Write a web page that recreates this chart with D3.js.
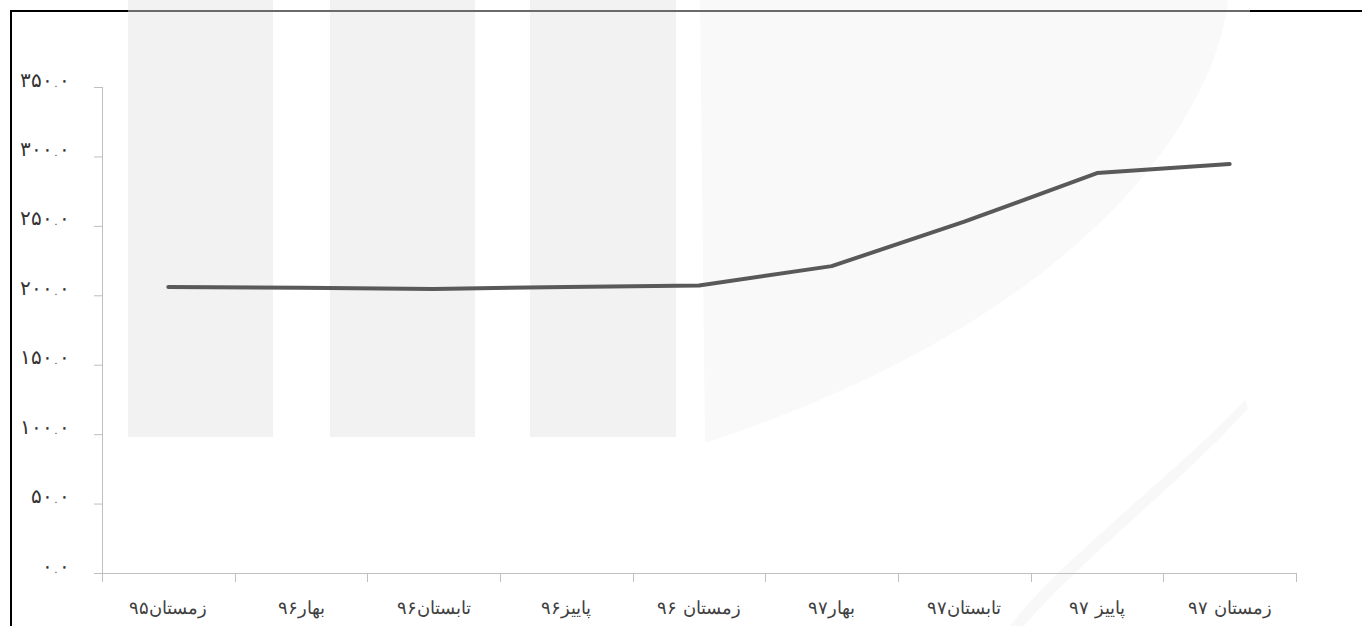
<!DOCTYPE html>
<html>
<head>
<meta charset="utf-8">
<script src="https://cdn.jsdelivr.net/npm/d3@7"></script>
<style>
html,body{margin:0;padding:0;background:#fff;}
svg{display:block;}
</style>
</head>
<body>
<svg id="chart" width="1362" height="626"></svg>
<script>
// ---- data ----
const categories = ["زمستان۹۵","بهار۹۶","تابستان۹۶","پاییز۹۶","زمستان ۹۶","بهار۹۷","تابستان۹۷","پاییز ۹۷","زمستان ۹۷"];
const values = [206, 205.5, 204.5, 206, 207, 221, 253, 288, 294.5];
const yTicks = [0, 50, 100, 150, 200, 250, 300, 350];
const yTickLabels = ["۰.۰","۵۰.۰","۱۰۰.۰","۱۵۰.۰","۲۰۰.۰","۲۵۰.۰","۳۰۰.۰","۳۵۰.۰"];

(function () {
const svg = d3.select("#chart");
const W = 1362, H = 626;
const mLeft = 102, mRight = 1296, mTop = 87, mBottom = 573;

// watermark-like background decoration
const bg = svg.append("g");
bg.append("path")
  .attr("d", "M700,0 L1228,0 C1215,120 1080,320 705,443 Z")
  .attr("fill", "#f9f9f9");
bg.append("path")
  .attr("d", "M1245,400 C1180,470 1060,560 1010,626 L1024,626 C1080,560 1190,475 1248,408 Z")
  .attr("fill", "#f8f8f8");
[[128,273],[330,475],[530,676]].forEach(([a,b]) => {
  bg.append("rect").attr("x", a).attr("y", 0).attr("width", b - a).attr("height", 437).attr("fill", "#f2f2f2");
});

// frame
svg.append("line").attr("x1", 11).attr("x2", 11).attr("y1", 10).attr("y2", H).attr("stroke", "#000").attr("stroke-width", 2);
svg.append("line").attr("x1", 10).attr("x2", 128).attr("y1", 11).attr("y2", 11).attr("stroke", "#000").attr("stroke-width", 2);
svg.append("line").attr("x1", 128).attr("x2", 1250).attr("y1", 11).attr("y2", 11).attr("stroke", "#6a6a6a").attr("stroke-width", 2);
svg.append("line").attr("x1", 1250).attr("x2", W).attr("y1", 11).attr("y2", 11).attr("stroke", "#000").attr("stroke-width", 2);

const x = d3.scaleBand().domain(categories).range([mLeft, mRight]).padding(0);
const y = d3.scaleLinear().domain([0, 350]).range([mBottom, mTop]);

// y axis
const yAxis = d3.axisLeft(y).tickValues(yTicks)
  .tickFormat((d, i) => yTickLabels[i])
  .tickSizeInner(8).tickSizeOuter(0).tickPadding(24);
const gy = svg.append("g").attr("transform", `translate(${mLeft},0)`).call(yAxis);
gy.select(".domain").attr("stroke", "#bfbfbf").attr("d", `M0.5,${mTop}V${mBottom + 9}`);
gy.selectAll(".tick line").attr("stroke", "#bfbfbf");
gy.selectAll(".tick text")
  .attr("font-family", "DejaVu Sans, sans-serif").attr("font-weight", 300)
  .attr("font-size", 20).attr("fill", "#333").attr("dy", "-0.05em");

// x axis labels
const xAxis = d3.axisBottom(x).tickSize(0).tickPadding(28);
const gx = svg.append("g").attr("transform", `translate(0,${mBottom})`).call(xAxis);
gx.select(".domain").attr("stroke", "#bfbfbf").attr("d", `M${mLeft - 8},0.5H${mRight}`);
gx.selectAll(".tick text")
  .attr("font-family", "DejaVu Sans, sans-serif").attr("font-weight", 300)
  .attr("font-size", 18).attr("fill", "#404040");
// boundary ticks
const bounds = categories.map(c => x(c)).concat([x(categories[categories.length - 1]) + x.bandwidth()]);
gx.selectAll(".btick").data(bounds).enter().append("line")
  .attr("class", "btick")
  .attr("x1", d => Math.round(d) + 0.5).attr("x2", d => Math.round(d) + 0.5)
  .attr("y1", 0).attr("y2", 9).attr("stroke", "#bfbfbf");

// line
const line = d3.line().x((d, i) => x(categories[i]) + x.bandwidth() / 2).y(d => y(d));
svg.append("path").datum(values)
  .attr("d", line)
  .attr("fill", "none").attr("stroke", "#595959").attr("stroke-width", 4)
  .attr("stroke-linecap", "round").attr("stroke-linejoin", "round");
})();
</script>
</body>
</html>
